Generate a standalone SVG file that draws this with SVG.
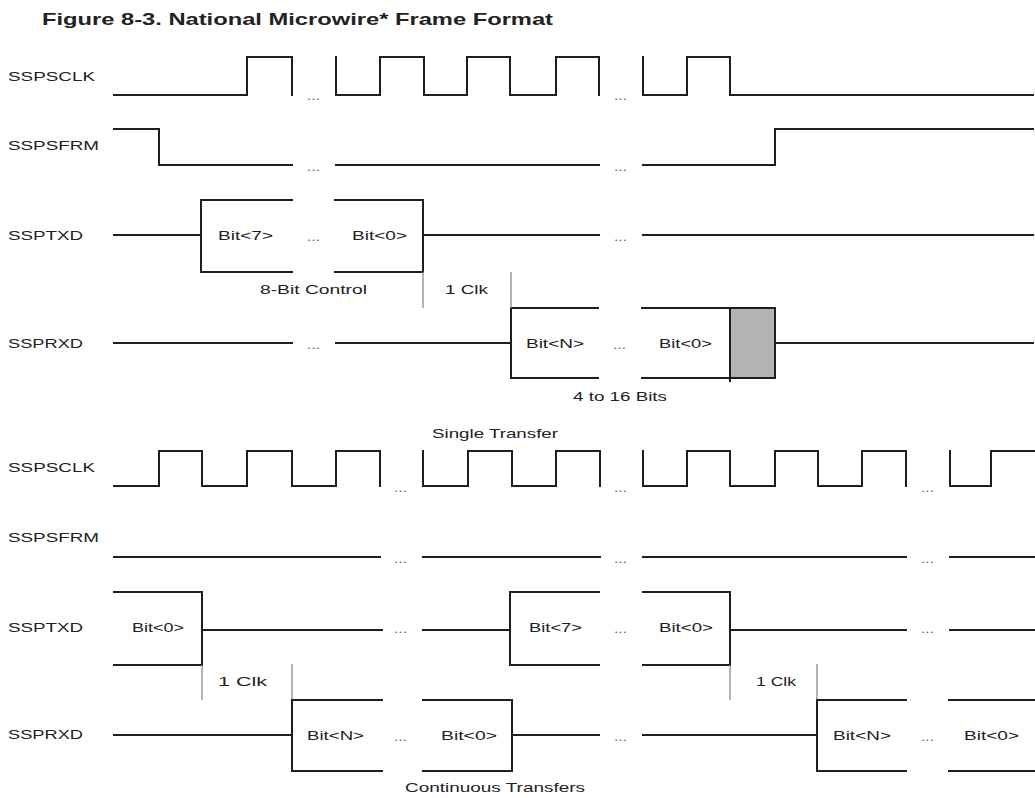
<svg xmlns="http://www.w3.org/2000/svg" width="1035" height="798" viewBox="0 0 1035 798">
<style>
.w{fill:none;stroke:#1e1e1e;stroke-width:2;stroke-linejoin:miter;stroke-linecap:square}
.tk{fill:none;stroke:#8a8a8a;stroke-width:1.3}
.t{font-family:"Liberation Sans",Arial,sans-serif;font-size:13.5px;fill:#222}
.b{font-family:"Liberation Sans",Arial,sans-serif;font-size:13px;fill:#222}
.d{font-family:"Liberation Sans",Arial,sans-serif;font-size:12px;fill:#666}
.h{font-family:"Liberation Sans",Arial,sans-serif;font-size:17px;font-weight:bold;fill:#222}
</style>
<rect width="1035" height="798" fill="#fff"/>
<text class="h" x="42" y="25" textLength="511" lengthAdjust="spacingAndGlyphs">Figure 8-3. National Microwire* Frame Format</text>

<!-- Single transfer -->
<g id="single-sspsclk">
<text class="t" x="8" y="81" textLength="87" lengthAdjust="spacingAndGlyphs">SSPSCLK</text>
<polyline class="w" points="114,95 247,95 247,57 292,57 292,95"/>
<polyline class="w" points="336,57 336,95 380,95 380,57 424,57 424,95 467,95 467,57 510,57 510,95 556,95 556,57 599,57 599,95"/>
<polyline class="w" points="643,57 643,95 687,95 687,57 730,57 730,95 1033,95"/>
<text class="d" x="307" y="100" textLength="13" lengthAdjust="spacingAndGlyphs">...</text>
<text class="d" x="614" y="100" textLength="13" lengthAdjust="spacingAndGlyphs">...</text>
</g>
<g id="single-sspsfrm">
<text class="t" x="8" y="150" textLength="91" lengthAdjust="spacingAndGlyphs">SSPSFRM</text>
<polyline class="w" points="114,129 159,129 159,165 292,165"/>
<polyline class="w" points="336,165 599,165"/>
<polyline class="w" points="643,165 775,165 775,129 1033,129"/>
<text class="d" x="307" y="171" textLength="13" lengthAdjust="spacingAndGlyphs">...</text>
<text class="d" x="614" y="171" textLength="13" lengthAdjust="spacingAndGlyphs">...</text>
</g>
<g id="single-ssptxd">
<text class="t" x="8" y="240" textLength="75" lengthAdjust="spacingAndGlyphs">SSPTXD</text>
<polyline class="w" points="114,235 201,235"/>
<path class="w" d="M292,200 H201 V272 H292 M335,200 H423 V272 H335"/>
<polyline class="w" points="423,235 599,235"/>
<polyline class="w" points="643,235 1033,235"/>
<text class="b" x="218" y="240" textLength="55" lengthAdjust="spacingAndGlyphs">Bit&lt;7&gt;</text>
<text class="d" x="307" y="241" textLength="13" lengthAdjust="spacingAndGlyphs">...</text>
<text class="b" x="352" y="240" textLength="55" lengthAdjust="spacingAndGlyphs">Bit&lt;0&gt;</text>
<text class="d" x="614" y="241" textLength="13" lengthAdjust="spacingAndGlyphs">...</text>
<text class="b" x="260" y="294" textLength="107" lengthAdjust="spacingAndGlyphs">8-Bit Control</text>
</g>
<g id="single-ssprxd">
<text class="t" x="8" y="348" textLength="75" lengthAdjust="spacingAndGlyphs">SSPRXD</text>
<polyline class="w" points="114,343 292,343"/>
<polyline class="w" points="336,343 511,343"/>
<rect x="730" y="308" width="45" height="70" fill="#b3b3b3" stroke="#1e1e1e" stroke-width="2"/>
<path class="w" d="M598,308 H511 V378 H598 M642,308 H775 V378 H642 M730,378 V381"/>
<polyline class="w" points="775,343 1033,343"/>
<text class="d" x="307" y="349" textLength="13" lengthAdjust="spacingAndGlyphs">...</text>
<text class="b" x="526" y="348" textLength="58" lengthAdjust="spacingAndGlyphs">Bit&lt;N&gt;</text>
<text class="d" x="613" y="349" textLength="13" lengthAdjust="spacingAndGlyphs">...</text>
<text class="b" x="659" y="348" textLength="53" lengthAdjust="spacingAndGlyphs">Bit&lt;0&gt;</text>
<text class="b" x="573" y="401" textLength="94" lengthAdjust="spacingAndGlyphs">4 to 16 Bits</text>
</g>
<g id="single-clk-delay">
<line class="tk" x1="423" y1="272" x2="423" y2="308"/>
<line class="tk" x1="511" y1="272" x2="511" y2="308"/>
<text class="b" x="445" y="294" textLength="43" lengthAdjust="spacingAndGlyphs">1 Clk</text>
</g>
<text class="b" x="432" y="438" textLength="126" lengthAdjust="spacingAndGlyphs">Single Transfer</text>

<!-- Continuous transfers -->
<g id="cont-sspsclk">
<text class="t" x="8" y="472" textLength="87" lengthAdjust="spacingAndGlyphs">SSPSCLK</text>
<polyline class="w" points="114,486 159,486 159,451 202,451 202,486 247,486 247,451 292,451 292,486 336,486 336,451 380,451 380,486"/>
<polyline class="w" points="423,451 423,486 468,486 468,451 512,451 512,486 556,486 556,451 600,451 600,486"/>
<polyline class="w" points="643,451 643,486 687,486 687,451 730,451 730,486 775,486 775,451 818,451 818,486 862,486 862,451 906,451 906,486"/>
<polyline class="w" points="950,451 950,486 991,486 991,451 1035,451"/>
<text class="d" x="394" y="492" textLength="13" lengthAdjust="spacingAndGlyphs">...</text>
<text class="d" x="614" y="492" textLength="13" lengthAdjust="spacingAndGlyphs">...</text>
<text class="d" x="921" y="492" textLength="13" lengthAdjust="spacingAndGlyphs">...</text>
</g>
<g id="cont-sspsfrm">
<text class="t" x="8" y="542" textLength="91" lengthAdjust="spacingAndGlyphs">SSPSFRM</text>
<polyline class="w" points="114,557 380,557"/>
<polyline class="w" points="423,557 600,557"/>
<polyline class="w" points="643,557 906,557"/>
<polyline class="w" points="950,557 1035,557"/>
<text class="d" x="394" y="563" textLength="13" lengthAdjust="spacingAndGlyphs">...</text>
<text class="d" x="614" y="563" textLength="13" lengthAdjust="spacingAndGlyphs">...</text>
<text class="d" x="921" y="563" textLength="13" lengthAdjust="spacingAndGlyphs">...</text>
</g>
<g id="cont-ssptxd">
<text class="t" x="8" y="632" textLength="75" lengthAdjust="spacingAndGlyphs">SSPTXD</text>
<path class="w" d="M114,592 H202 V665 H114"/>
<text class="b" x="132" y="632" textLength="52" lengthAdjust="spacingAndGlyphs">Bit&lt;0&gt;</text>
<polyline class="w" points="202,630 382,630"/>
<polyline class="w" points="423,630 510,630"/>
<path class="w" d="M599,592 H510 V665 H599 M643,592 H730 V665 H643"/>
<text class="b" x="529" y="632" textLength="53" lengthAdjust="spacingAndGlyphs">Bit&lt;7&gt;</text>
<text class="d" x="614" y="633" textLength="13" lengthAdjust="spacingAndGlyphs">...</text>
<text class="b" x="659" y="632" textLength="54" lengthAdjust="spacingAndGlyphs">Bit&lt;0&gt;</text>
<polyline class="w" points="730,630 906,630"/>
<polyline class="w" points="950,630 1035,630"/>
<text class="d" x="394" y="633" textLength="13" lengthAdjust="spacingAndGlyphs">...</text>
<text class="d" x="921" y="633" textLength="13" lengthAdjust="spacingAndGlyphs">...</text>
</g>
<g id="cont-clk-delay">
<line class="tk" x1="202" y1="665" x2="202" y2="700" stroke-width="2"/>
<line class="tk" x1="292" y1="664" x2="292" y2="700"/>
<text class="b" x="218" y="686" textLength="49" lengthAdjust="spacingAndGlyphs">1 Clk</text>
<line class="tk" x1="730" y1="665" x2="730" y2="700"/>
<line class="tk" x1="817" y1="664" x2="817" y2="700"/>
<text class="b" x="756" y="686" textLength="40" lengthAdjust="spacingAndGlyphs">1 Clk</text>
</g>
<g id="cont-ssprxd">
<text class="t" x="8" y="739" textLength="75" lengthAdjust="spacingAndGlyphs">SSPRXD</text>
<polyline class="w" points="114,735 292,735"/>
<path class="w" d="M382,700 H292 V771 H382 M423,700 H512 V771 H423"/>
<text class="b" x="307" y="740" textLength="57" lengthAdjust="spacingAndGlyphs">Bit&lt;N&gt;</text>
<text class="d" x="394" y="741" textLength="13" lengthAdjust="spacingAndGlyphs">...</text>
<text class="b" x="441" y="740" textLength="56" lengthAdjust="spacingAndGlyphs">Bit&lt;0&gt;</text>
<polyline class="w" points="512,735 599,735"/>
<polyline class="w" points="643,735 817,735"/>
<text class="d" x="614" y="741" textLength="13" lengthAdjust="spacingAndGlyphs">...</text>
<path class="w" d="M906,700 H817 V771 H906 M949,700 H1035 M949,771 H1035"/>
<text class="b" x="833" y="740" textLength="58" lengthAdjust="spacingAndGlyphs">Bit&lt;N&gt;</text>
<text class="d" x="921" y="741" textLength="13" lengthAdjust="spacingAndGlyphs">...</text>
<text class="b" x="964" y="740" textLength="55" lengthAdjust="spacingAndGlyphs">Bit&lt;0&gt;</text>
</g>
<text class="b" x="405" y="792" textLength="180" lengthAdjust="spacingAndGlyphs">Continuous Transfers</text>
</svg>
